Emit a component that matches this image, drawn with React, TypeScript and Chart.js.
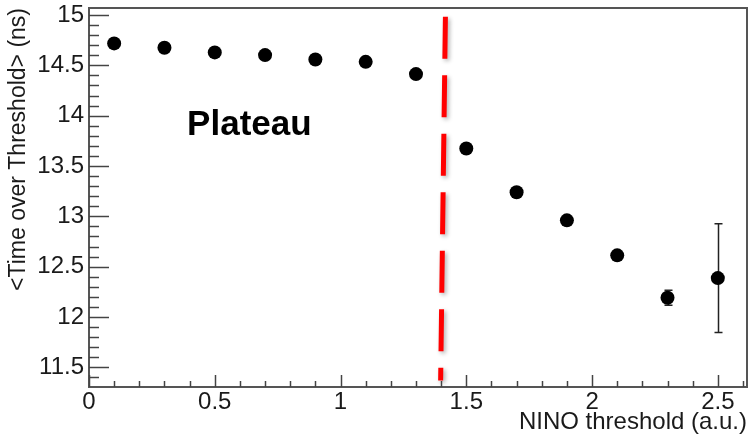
import React, { useEffect, useRef } from "react";
import { Chart, registerables } from "chart.js";

Chart.register(...registerables);

// NINO threshold scan: mean time over threshold per setting
const thresholds = [0.1, 0.3, 0.5, 0.7, 0.9, 1.1, 1.3, 1.5, 1.7, 1.9, 2.1, 2.3, 2.5];
const meanTot = [14.718, 14.675, 14.629, 14.602, 14.559, 14.535, 14.413, 13.674, 13.239, 12.96, 12.612, 12.191, 12.386];
const totError = [0.015, 0.015, 0.015, 0.015, 0.015, 0.015, 0.02, 0.02, 0.02, 0.02, 0.025, 0.075, 0.54];

// vertical cut separating the plateau region
const cutX = [1.417, 1.398];
const cutY = [14.983, 11.368];

const plateauText = "Plateau";
const plateauPos = { x: 0.39, y: 13.813 };

const xRange = { min: 0, max: 2.616 };
const yRange = { min: 11.304, max: 15.07 };

const FONT = "'Liberation Sans', Arial, Helvetica, sans-serif";
const AXIS_COLOR = "#555";
const TEXT_COLOR = "#1a1a1a";

// frame and inward ROOT-style tick marks
const framePlugin = {
  id: "frameTicks",
  afterDraw(chart: any) {
    const { ctx, chartArea, scales } = chart;
    const { left, right, top, bottom } = chartArea;
    ctx.save();
    ctx.strokeStyle = AXIS_COLOR;
    ctx.lineWidth = 2;
    ctx.strokeRect(left, top, right - left, bottom - top);
    ctx.lineWidth = 1.5;
    ctx.strokeStyle = "#444";
    const xs = scales.x;
    const ys = scales.y;
    for (let i = Math.ceil(xs.min * 10); i <= Math.floor(xs.max * 10 + 1e-6); i++) {
      const v = i / 10;
      const major = i % 5 === 0;
      const px = Math.round(xs.getPixelForValue(v)) + 0.5;
      const len = major ? 12 : 6;
      ctx.beginPath();
      ctx.moveTo(px, bottom);
      ctx.lineTo(px, bottom - len);
      ctx.stroke();
    }
    for (let i = Math.ceil(ys.min * 10); i <= Math.floor(ys.max * 10 + 1e-6); i++) {
      const v = i / 10;
      const major = i % 5 === 0;
      const py = Math.round(ys.getPixelForValue(v)) + 0.5;
      const len = major ? 20 : 10;
      ctx.beginPath();
      ctx.moveTo(left, py);
      ctx.lineTo(left + len, py);
      ctx.stroke();
    }
    ctx.restore();
  },
};

// vertical error bars under the markers
const errorBarPlugin = {
  id: "errorBars",
  beforeDatasetsDraw(chart: any) {
    const { ctx, scales } = chart;
    ctx.save();
    ctx.strokeStyle = "#222";
    ctx.lineWidth = 1.5;
    thresholds.forEach((x, i) => {
      const px = Math.round(scales.x.getPixelForValue(x)) + 0.5;
      const yHi = scales.y.getPixelForValue(meanTot[i] + totError[i]);
      const yLo = scales.y.getPixelForValue(meanTot[i] - totError[i]);
      ctx.beginPath();
      ctx.moveTo(px, yHi);
      ctx.lineTo(px, yLo);
      ctx.moveTo(px - 4, yHi);
      ctx.lineTo(px + 4, yHi);
      ctx.moveTo(px - 4, yLo);
      ctx.lineTo(px + 4, yLo);
      ctx.stroke();
    });
    ctx.restore();
  },
};

// soft shadow behind the red cut line
const shadowPlugin = {
  id: "cutShadow",
  beforeDatasetDraw(chart: any, args: any) {
    if (args.index === 1) {
      const ctx = chart.ctx;
      ctx.save();
      ctx.shadowColor = "rgba(0,0,0,0.3)";
      ctx.shadowBlur = 4;
      ctx.shadowOffsetX = 2;
      ctx.shadowOffsetY = 2;
    }
  },
  afterDatasetDraw(chart: any, args: any) {
    if (args.index === 1) chart.ctx.restore();
  },
};

const labelPlugin = {
  id: "plateauLabel",
  afterDraw(chart: any) {
    const { ctx, scales } = chart;
    ctx.save();
    ctx.font = `bold 35px ${FONT}`;
    ctx.fillStyle = "#000";
    ctx.textAlign = "left";
    ctx.textBaseline = "alphabetic";
    ctx.fillText(plateauText, scales.x.getPixelForValue(plateauPos.x), scales.y.getPixelForValue(plateauPos.y));
    ctx.restore();
  },
};

const fmt = (v: any) => `${+Number(v).toFixed(2)}`;

const noPadding = (scale: any) => {
  scale.paddingLeft = 0;
  scale.paddingRight = 0;
  scale.paddingTop = 0;
  scale.paddingBottom = 0;
};

export default function App() {
  const canvasRef = useRef<HTMLCanvasElement | null>(null);

  useEffect(() => {
    const canvas = canvasRef.current;
    if (!canvas) return;
    const chart = new Chart(canvas, {
      type: "scatter",
      data: {
        datasets: [
          {
            label: "mean ToT",
            data: thresholds.map((x, i) => ({ x, y: meanTot[i] })),
            backgroundColor: "#000",
            borderColor: "#000",
            pointRadius: 7,
            pointBorderWidth: 0,
            showLine: false,
          },
          {
            type: "line",
            label: "cut",
            data: cutX.map((x, i) => ({ x, y: cutY[i] })),
            borderColor: "#ff0000",
            borderWidth: 5,
            borderDash: [42, 16.5],
            borderCapStyle: "butt",
            pointRadius: 0,
            fill: false,
          },
        ],
      } as any,
      options: {
        responsive: false,
        animation: false,
        layout: { autoPadding: false, padding: { left: 0, top: 8, right: 1, bottom: 0 } },
        plugins: {
          legend: { display: false },
          tooltip: { enabled: false },
        },
        scales: {
          x: {
            type: "linear",
            min: xRange.min,
            max: xRange.max,
            grid: { display: false, drawTicks: false },
            border: { display: false },
            ticks: {
              stepSize: 0.5,
              includeBounds: false,
              padding: 1,
              color: TEXT_COLOR,
              font: { family: FONT, size: 24 },
              callback: fmt,
              maxRotation: 0,
            },
            title: {
              display: true,
              text: "NINO threshold (a.u.)",
              align: "end",
              color: TEXT_COLOR,
              font: { family: FONT, size: 24 },
              padding: { top: 0, bottom: 0 },
            },
            afterFit(scale: any) {
              scale.height = 50;
              noPadding(scale);
            },
          },
          y: {
            type: "linear",
            min: yRange.min,
            max: yRange.max,
            grid: { display: false, drawTicks: false },
            border: { display: false },
            ticks: {
              stepSize: 0.5,
              includeBounds: false,
              padding: 5,
              color: TEXT_COLOR,
              font: { family: FONT, size: 24 },
              callback: fmt,
            },
            title: {
              display: true,
              text: "<Time over Threshold> (ns)",
              align: "end",
              color: TEXT_COLOR,
              font: { family: FONT, size: 23 },
              padding: { top: 5, bottom: 0 },
            },
            afterFit(scale: any) {
              scale.width = 89;
              noPadding(scale);
            },
          },
        },
      } as any,
      plugins: [framePlugin, errorBarPlugin, shadowPlugin, labelPlugin],
    });
    return () => chart.destroy();
  }, []);

  return (
    <div style={{ position: "absolute", left: 0, top: 0, width: 748, height: 437, background: "#fff" }}>
      <canvas ref={canvasRef} width={748} height={437} style={{ display: "block" }} />
    </div>
  );
}
